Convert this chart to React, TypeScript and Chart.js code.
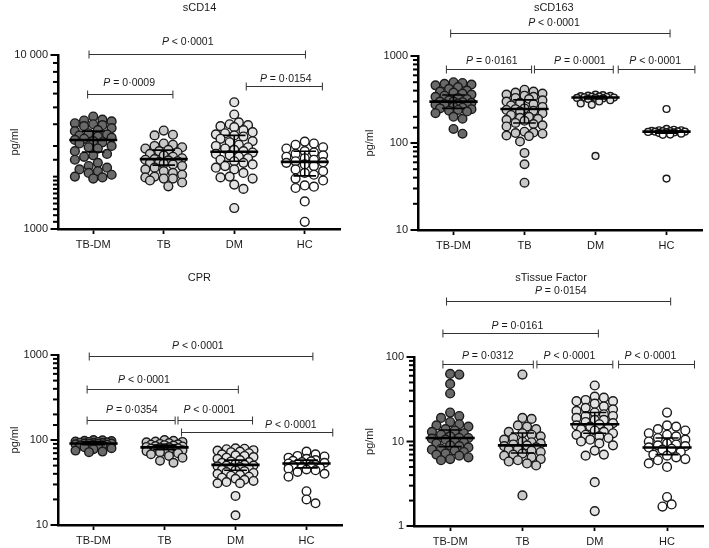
import React, { useEffect, useRef } from 'react';
import { Chart, registerables } from 'chart.js';
Chart.register(...registerables);

const groups = ['TB-DM', 'TB', 'DM', 'HC'];
const fills = ['#696969', '#c8c8c8', '#e3e3e3', '#ffffff'];

// ---------- sCD14 ----------
const sCD14_TBDM = [4430, 4250, 4200, 4150, 4050, 4000, 3950, 3900, 3800, 3700, 3650, 3550, 3500, 3450, 3400, 3350, 3300, 3250, 3200, 3150, 3100, 3000, 2950, 2900, 2800, 2700, 2650, 2600, 2500, 2400, 2300, 2250, 2200, 2150, 2100, 2050, 2000, 1980, 1950];
const sCD14_TB = [3680, 3480, 3450, 3100, 3050, 3000, 2950, 2900, 2850, 2800, 2750, 2700, 2650, 2600, 2550, 2520, 2500, 2480, 2450, 2420, 2400, 2380, 2350, 2300, 2250, 2200, 2150, 2100, 2050, 2000, 1980, 1950, 1950, 1900, 1850, 1760];
const sCD14_DM = [5350, 4550, 4100, 4000, 3950, 3900, 3850, 3700, 3600, 3550, 3500, 3450, 3400, 3300, 3200, 3150, 3050, 3000, 2950, 2900, 2850, 2800, 2750, 2700, 2650, 2600, 2550, 2500, 2450, 2400, 2350, 2300, 2250, 2200, 2100, 2000, 1980, 1950, 1800, 1700, 1320];
const sCD14_HC = [3180, 3100, 3050, 2950, 2900, 2800, 2750, 2700, 2650, 2600, 2550, 2500, 2450, 2420, 2400, 2350, 2300, 2200, 2150, 2100, 2050, 1950, 1900, 1780, 1750, 1720, 1440, 1100];
const sCD14_median = [3245, 2520, 2780, 2430];
const sCD14_q1 = [2770, 2330, 2450, 2020];
const sCD14_q3 = [3650, 2840, 3450, 2800];
const sCD14_brFrom = [-0.06, -0.08, 2.17];
const sCD14_brTo = [3.01, 1.13, 3.25];
const sCD14_brY = [10090, 5950, 6640];
const sCD14_brLabel = ['P < 0·0001', 'P = 0·0009', 'P = 0·0154'];

// ---------- sCD163 ----------
const sCD163_TBDM = [500, 490, 480, 470, 460, 440, 420, 400, 390, 380, 370, 360, 350, 340, 330, 320, 310, 300, 300, 295, 290, 285, 280, 275, 270, 260, 255, 250, 245, 240, 235, 230, 220, 200, 190, 145, 128];
const sCD163_TB = [410, 390, 380, 370, 360, 350, 340, 330, 320, 310, 300, 290, 280, 270, 260, 250, 245, 240, 235, 230, 220, 210, 200, 195, 190, 185, 180, 170, 165, 160, 155, 135, 132, 130, 128, 122, 120, 104, 77, 57, 35];
const sCD163_DM = [360, 355, 350, 348, 345, 342, 340, 338, 335, 333, 330, 330, 325, 320, 310, 300, 285, 275, 71];
const sCD163_HC = [246, 145, 142, 140, 140, 138, 137, 137, 136, 135, 135, 134, 133, 132, 130, 128, 125, 124, 39];
const sCD163_median = [299, 246, 333, 135];
const sCD163_q1 = [250, 170, 320, 130];
const sCD163_q3 = [356, 313, 345, 140];
const sCD163_brFrom = [-0.04, -0.1, 1.14, 2.32];
const sCD163_brTo = [3.05, 1.1, 2.25, 3.4];
const sCD163_brY = [1820, 703, 703, 703];
const sCD163_brLabel = ['P < 0·0001', 'P = 0·0161', 'P = 0·0001', 'P < 0·0001'];

// ---------- CPR ----------
const CPR_TBDM = [100, 99, 98, 97, 96, 95, 95, 94, 93, 92, 92, 91, 91, 90, 90, 89, 88, 88, 87, 86, 85, 84, 82, 80, 78, 75, 73, 72];
const CPR_TB = [100, 98, 96, 95, 94, 92, 90, 89, 88, 87, 86, 85, 84, 83, 82, 81, 80, 80, 79, 78, 77, 76, 75, 74, 73, 72, 70, 68, 65, 62, 57, 54];
const CPR_DM = [80, 79, 78, 76, 75, 73, 72, 70, 68, 66, 65, 63, 62, 60, 58, 56, 55, 54, 52, 51, 50, 50, 49, 48, 47, 46, 45, 44, 43, 42, 41, 40, 39, 38, 37, 36, 35, 34, 33, 32, 31, 31, 22, 13];
const CPR_HC = [73, 68, 65, 64, 62, 60, 58, 57, 56, 55, 54, 53, 52, 52, 51, 50, 49, 48, 47, 46, 45, 44, 42, 40, 37, 25, 20, 18];
const CPR_median = [91, 82, 51, 53];
const CPR_q1 = [88, 77, 44, 47];
const CPR_q3 = [95, 87, 58, 58];
const CPR_brFrom = [-0.06, -0.09, -0.09, 1.19, 1.24];
const CPR_brTo = [3.09, 2.04, 1.15, 2.24, 3.37];
const CPR_brY = [973, 395, 172, 172, 125];
const CPR_brLabel = ['P < 0·0001', 'P < 0·0001', 'P = 0·0354', 'P < 0·0001', 'P < 0·0001'];

// ---------- sTissue Factor ----------
const TF_TBDM = [63, 62, 48, 37, 22, 20, 19, 17, 16, 15.5, 15, 14, 13.5, 13, 12.5, 12, 11.5, 11, 11, 10.8, 10.5, 10, 9.8, 9.5, 9, 8.8, 8.5, 8.2, 8, 7.8, 7.5, 7.2, 7, 6.8, 6.5, 6.2, 6];
const TF_TB = [62, 19, 18.5, 15.5, 15, 14, 13, 12.5, 12, 11.5, 11, 10.5, 10, 9.8, 9.5, 9.2, 9, 8.8, 8.5, 8.2, 8, 7.8, 7.5, 7.2, 7, 6.8, 6.5, 6.2, 6, 5.8, 5.5, 5.2, 2.3];
const TF_DM = [46, 34, 33, 31, 30, 30, 28, 26, 25, 24, 23, 22, 21, 20, 20, 19, 18, 18, 17, 16.5, 16, 15.5, 15, 14.5, 14, 13.5, 13, 12.5, 12, 12, 11.5, 11, 10.5, 10, 9.5, 9, 7.8, 7, 6.8, 3.3, 1.5];
const TF_HC = [22, 15.5, 15, 14, 13.5, 12.5, 12, 11.5, 11, 10.5, 10, 9.5, 9.2, 9, 8.8, 8.5, 8.2, 8, 7.5, 7, 6.8, 6.5, 6.2, 6, 5.5, 5, 2.2, 1.8, 1.7];
const TF_median = [11.0, 9.0, 16, 8.5];
const TF_q1 = [8.7, 7.3, 12.5, 7];
const TF_q3 = [13.7, 12.6, 22, 11];
const TF_brFrom = [-0.05, -0.1, -0.1, 1.2, 2.33];
const TF_brTo = [3.05, 2.05, 1.15, 2.25, 3.38];
const TF_brY = [457, 193, 83.4, 83.4, 83.4];
const TF_brLabel = ['P = 0·0154', 'P = 0·0161', 'P = 0·0312', 'P < 0·0001', 'P < 0·0001'];

type Panel = {
  title: string; titleX: number;
  pos: { x: number; y: number; w: number; h: number };
  area: { left: number; right: number; top: number; bottom: number };
  yMin: number; yMax: number;
  series: number[][]; radius: number[];
  median: number[]; q1: number[]; q3: number[];
  brFrom: number[]; brTo: number[]; brY: number[]; brLabel: string[];
  labelAt: number[]; labelDy: number[];
};

const panels: Panel[] = [
  {
    title: 'sCD14', titleX: 199.5,
    pos: { x: 0, y: 0, w: 355, h: 270 },
    area: { left: 58, right: 340, top: 55, bottom: 229 },
    yMin: 1000, yMax: 10000,
    series: [sCD14_TBDM, sCD14_TB, sCD14_DM, sCD14_HC], radius: [4.4, 4.4, 4.4, 4.4],
    median: sCD14_median, q1: sCD14_q1, q3: sCD14_q3,
    brFrom: sCD14_brFrom, brTo: sCD14_brTo, brY: sCD14_brY, brLabel: sCD14_brLabel,
    labelAt: [1.34, 0.51, 2.73], labelDy: [12, 11.5, 7.5],
  },
  {
    title: 'sCD163', titleX: 198.8,
    pos: { x: 355, y: 0, w: 354, h: 270 },
    area: { left: 63, right: 347, top: 56, bottom: 230 },
    yMin: 10, yMax: 1000,
    series: [sCD163_TBDM, sCD163_TB, sCD163_DM, sCD163_HC], radius: [4.3, 4.3, 3.4, 3.4],
    median: sCD163_median, q1: sCD163_q1, q3: sCD163_q3,
    brFrom: sCD163_brFrom, brTo: sCD163_brTo, brY: sCD163_brY, brLabel: sCD163_brLabel,
    labelAt: [1.415, 0.54, 1.78, 2.84], labelDy: [10, 8, 8, 8],
  },
  {
    title: 'CPR', titleX: 199.3,
    pos: { x: 0, y: 270, w: 355, h: 278 },
    area: { left: 58, right: 342, top: 85, bottom: 255 },
    yMin: 10, yMax: 1000,
    series: [CPR_TBDM, CPR_TB, CPR_DM, CPR_HC], radius: [4.3, 4.3, 4.3, 4.3],
    median: CPR_median, q1: CPR_q1, q3: CPR_q3,
    brFrom: CPR_brFrom, brTo: CPR_brTo, brY: CPR_brY, brLabel: CPR_brLabel,
    labelAt: [1.47, 0.71, 0.54, 1.63, 2.78], labelDy: [10, 9.5, 10, 10, 7],
  },
  {
    title: 'sTissue Factor', titleX: 196,
    pos: { x: 355, y: 270, w: 354, h: 278 },
    area: { left: 59, right: 350, top: 87, bottom: 256 },
    yMin: 1, yMax: 100,
    series: [TF_TBDM, TF_TB, TF_DM, TF_HC], radius: [4.4, 4.4, 4.4, 4.4],
    median: TF_median, q1: TF_q1, q3: TF_q3,
    brFrom: TF_brFrom, brTo: TF_brTo, brY: TF_brY, brLabel: TF_brLabel,
    labelAt: [1.53, 0.93, 0.52, 1.65, 2.77], labelDy: [10, 7.5, 8, 8, 8],
  },
];

const FONT = '"Liberation Sans", Arial, Helvetica, sans-serif';
const INK = '#1a1a1a';

function swarm(vals: number[], center: number, ppu: number, ppd: number, diam: number, maxHalf: number) {
  const sorted = [...vals].sort((a, b) => b - a);
  const placed: { ox: number; py: number }[] = [];
  const out: { x: number; y: number }[] = [];
  const step = diam * 0.45;
  const minD = diam * 0.8;
  const n = Math.floor(maxHalf / step);
  for (const v of sorted) {
    const py = Math.log10(v) * ppd;
    let best = 0;
    let bestScore = -1;
    for (let k = 0; k <= 2 * n; k++) {
      const ox = (k % 2 === 1 ? 1 : -1) * Math.ceil(k / 2) * step;
      let md = Infinity;
      for (const p of placed) {
        const d = Math.hypot(p.ox - ox, p.py - py);
        if (d < md) md = d;
      }
      if (md >= minD) { best = ox; bestScore = Infinity; break; }
      if (md > bestScore + 0.5) { bestScore = md; best = ox; }
    }
    placed.push({ ox: best, py });
    out.push({ x: center + best / ppu, y: v });
  }
  return out;
}

function isDecade(v: number): boolean {
  const l = Math.log10(v);
  return Math.abs(l - Math.round(l)) < 1e-6;
}

function fmtLog(v: number): string {
  if (!isDecade(v)) return '';
  if (v >= 10000) return String(v).replace(/\B(?=(\d{3})+(?!\d))/g, ' ');
  return String(v);
}

function drawPLabel(ctx: CanvasRenderingContext2D, text: string, cx: number, cy: number) {
  const first = text.charAt(0);
  const rest = text.slice(1);
  const italic = `italic 10.5px ${FONT}`;
  const normal = `10.5px ${FONT}`;
  ctx.font = italic;
  const w1 = ctx.measureText(first).width;
  ctx.font = normal;
  const w2 = ctx.measureText(rest).width;
  const x0 = cx - (w1 + w2) / 2;
  ctx.textBaseline = 'middle';
  ctx.textAlign = 'left';
  ctx.fillStyle = INK;
  ctx.font = italic;
  ctx.fillText(first, x0, cy);
  ctx.font = normal;
  ctx.fillText(rest, x0 + w1, cy);
}

function makeExtras(p: Panel) {
  return {
    id: 'extras',
    afterDraw(chart: any) {
      const { ctx, scales } = chart;
      const y = scales.y;
      // y-axis tick marks: long for decades, short for minor ticks
      ctx.save();
      ctx.strokeStyle = '#000';
      ctx.lineWidth = 2;
      const ax = chart.chartArea.left - 1;
      for (const t of y.ticks) {
        const py = y.getPixelForValue(t.value);
        const len = isDecade(t.value) ? 6.5 : 4;
        ctx.beginPath();
        ctx.moveTo(ax - len, py);
        ctx.lineTo(ax, py);
        ctx.stroke();
      }
      ctx.restore();
    },
    afterDatasetsDraw(chart: any) {
      const { ctx, scales } = chart;
      const x = scales.x;
      const y = scales.y;
      ctx.save();
      ctx.strokeStyle = '#000';
      for (let i = 0; i < 4; i++) {
        const cx = x.getPixelForValue(i);
        const hw = x.getPixelForValue(i + 0.34) - cx;
        const cw = x.getPixelForValue(i + 0.16) - cx;
        const ym = y.getPixelForValue(p.median[i]);
        const y1 = y.getPixelForValue(p.q1[i]);
        const y3 = y.getPixelForValue(p.q3[i]);
        ctx.lineWidth = 1.6;
        ctx.beginPath();
        ctx.moveTo(cx, y1); ctx.lineTo(cx, y3);
        ctx.moveTo(cx - cw, y1); ctx.lineTo(cx + cw, y1);
        ctx.moveTo(cx - cw, y3); ctx.lineTo(cx + cw, y3);
        ctx.stroke();
        ctx.lineWidth = 2.6;
        ctx.beginPath();
        ctx.moveTo(cx - hw, ym); ctx.lineTo(cx + hw, ym);
        ctx.stroke();
      }
      // significance brackets
      ctx.strokeStyle = '#333';
      ctx.lineWidth = 1;
      for (let b = 0; b < p.brY.length; b++) {
        const x1 = x.getPixelForValue(p.brFrom[b]);
        const x2 = x.getPixelForValue(p.brTo[b]);
        const yy = Math.round(y.getPixelForValue(p.brY[b])) + 0.5;
        ctx.beginPath();
        ctx.moveTo(x1, yy); ctx.lineTo(x2, yy);
        ctx.moveTo(x1, yy - 4); ctx.lineTo(x1, yy + 4);
        ctx.moveTo(x2, yy - 4); ctx.lineTo(x2, yy + 4);
        ctx.stroke();
        drawPLabel(ctx, p.brLabel[b], x.getPixelForValue(p.labelAt[b]), yy - p.labelDy[b]);
      }
      // panel title
      ctx.font = `11px ${FONT}`;
      ctx.fillStyle = INK;
      ctx.textAlign = 'center';
      ctx.textBaseline = 'middle';
      ctx.fillText(p.title, p.titleX, 7.5);
      ctx.restore();
    },
  };
}

function PanelChart({ p }: { p: Panel }) {
  const ref = useRef<HTMLCanvasElement | null>(null);
  useEffect(() => {
    if (!ref.current) return;
    const ppu = (p.area.right - p.area.left) / 4;
    const ppd = (p.area.bottom - p.area.top) / (Math.log10(p.yMax) - Math.log10(p.yMin));
    const datasets = p.series.map((vals, i) => ({
      type: 'scatter' as const,
      label: groups[i],
      data: swarm(vals, i, ppu, ppd, p.radius[i] * 2 + 1.4, 20),
      pointRadius: p.radius[i],
      pointHoverRadius: p.radius[i],
      pointBackgroundColor: fills[i],
      pointBorderColor: '#1a1a1a',
      pointBorderWidth: 1.4,
      showLine: false,
      clip: false as any,
    }));
    const tickFont = { family: FONT, size: 11 };
    const chart = new Chart(ref.current, {
      type: 'scatter',
      data: { datasets },
      options: {
        animation: false,
        responsive: false,
        devicePixelRatio: 1,
        events: [],
        layout: { padding: { left: 0, top: p.area.top, right: p.pos.w - p.area.right, bottom: 0 } },
        plugins: { legend: { display: false }, tooltip: { enabled: false }, title: { display: false } },
        scales: {
          x: {
            type: 'linear',
            min: -0.5,
            max: 3.5,
            afterBuildTicks: (s: any) => { s.ticks = [0, 1, 2, 3].map((v) => ({ value: v })); },
            afterFit: (s: any) => { s.height = p.pos.h - p.area.bottom; },
            grid: { drawOnChartArea: false, drawTicks: true, tickLength: 5, tickWidth: 1.8, tickColor: '#000' },
            border: { display: true, width: 2.5, color: '#000' },
            ticks: {
              autoSkip: false, maxRotation: 0, padding: 4, color: INK, font: tickFont,
              callback: (v: any) => groups[Math.round(Number(v))] ?? '',
            },
          },
          y: {
            type: 'logarithmic',
            min: p.yMin,
            max: p.yMax,
            afterFit: (s: any) => { s.width = p.area.left; },
            grid: { drawOnChartArea: false, drawTicks: false },
            border: { display: true, width: 2.5, color: '#000' },
            ticks: {
              autoSkip: false, padding: 10, color: INK, font: tickFont,
              callback: (v: any) => fmtLog(Number(v)),
            },
            title: { display: true, text: 'pg/ml', color: INK, font: tickFont, padding: { top: 8, bottom: 0 } },
          },
        },
      },
      plugins: [makeExtras(p)],
    } as any);
    return () => chart.destroy();
  }, [p]);
  return (
    <canvas
      ref={ref}
      width={p.pos.w}
      height={p.pos.h}
      style={{ position: 'absolute', left: p.pos.x, top: p.pos.y, width: p.pos.w, height: p.pos.h }}
    />
  );
}

export default function App() {
  return (
    <div style={{ position: 'fixed', left: 0, top: 0, width: 709, height: 548, background: '#fff', overflow: 'hidden' }}>
      {panels.map((p) => (
        <PanelChart key={p.title} p={p} />
      ))}
    </div>
  );
}
